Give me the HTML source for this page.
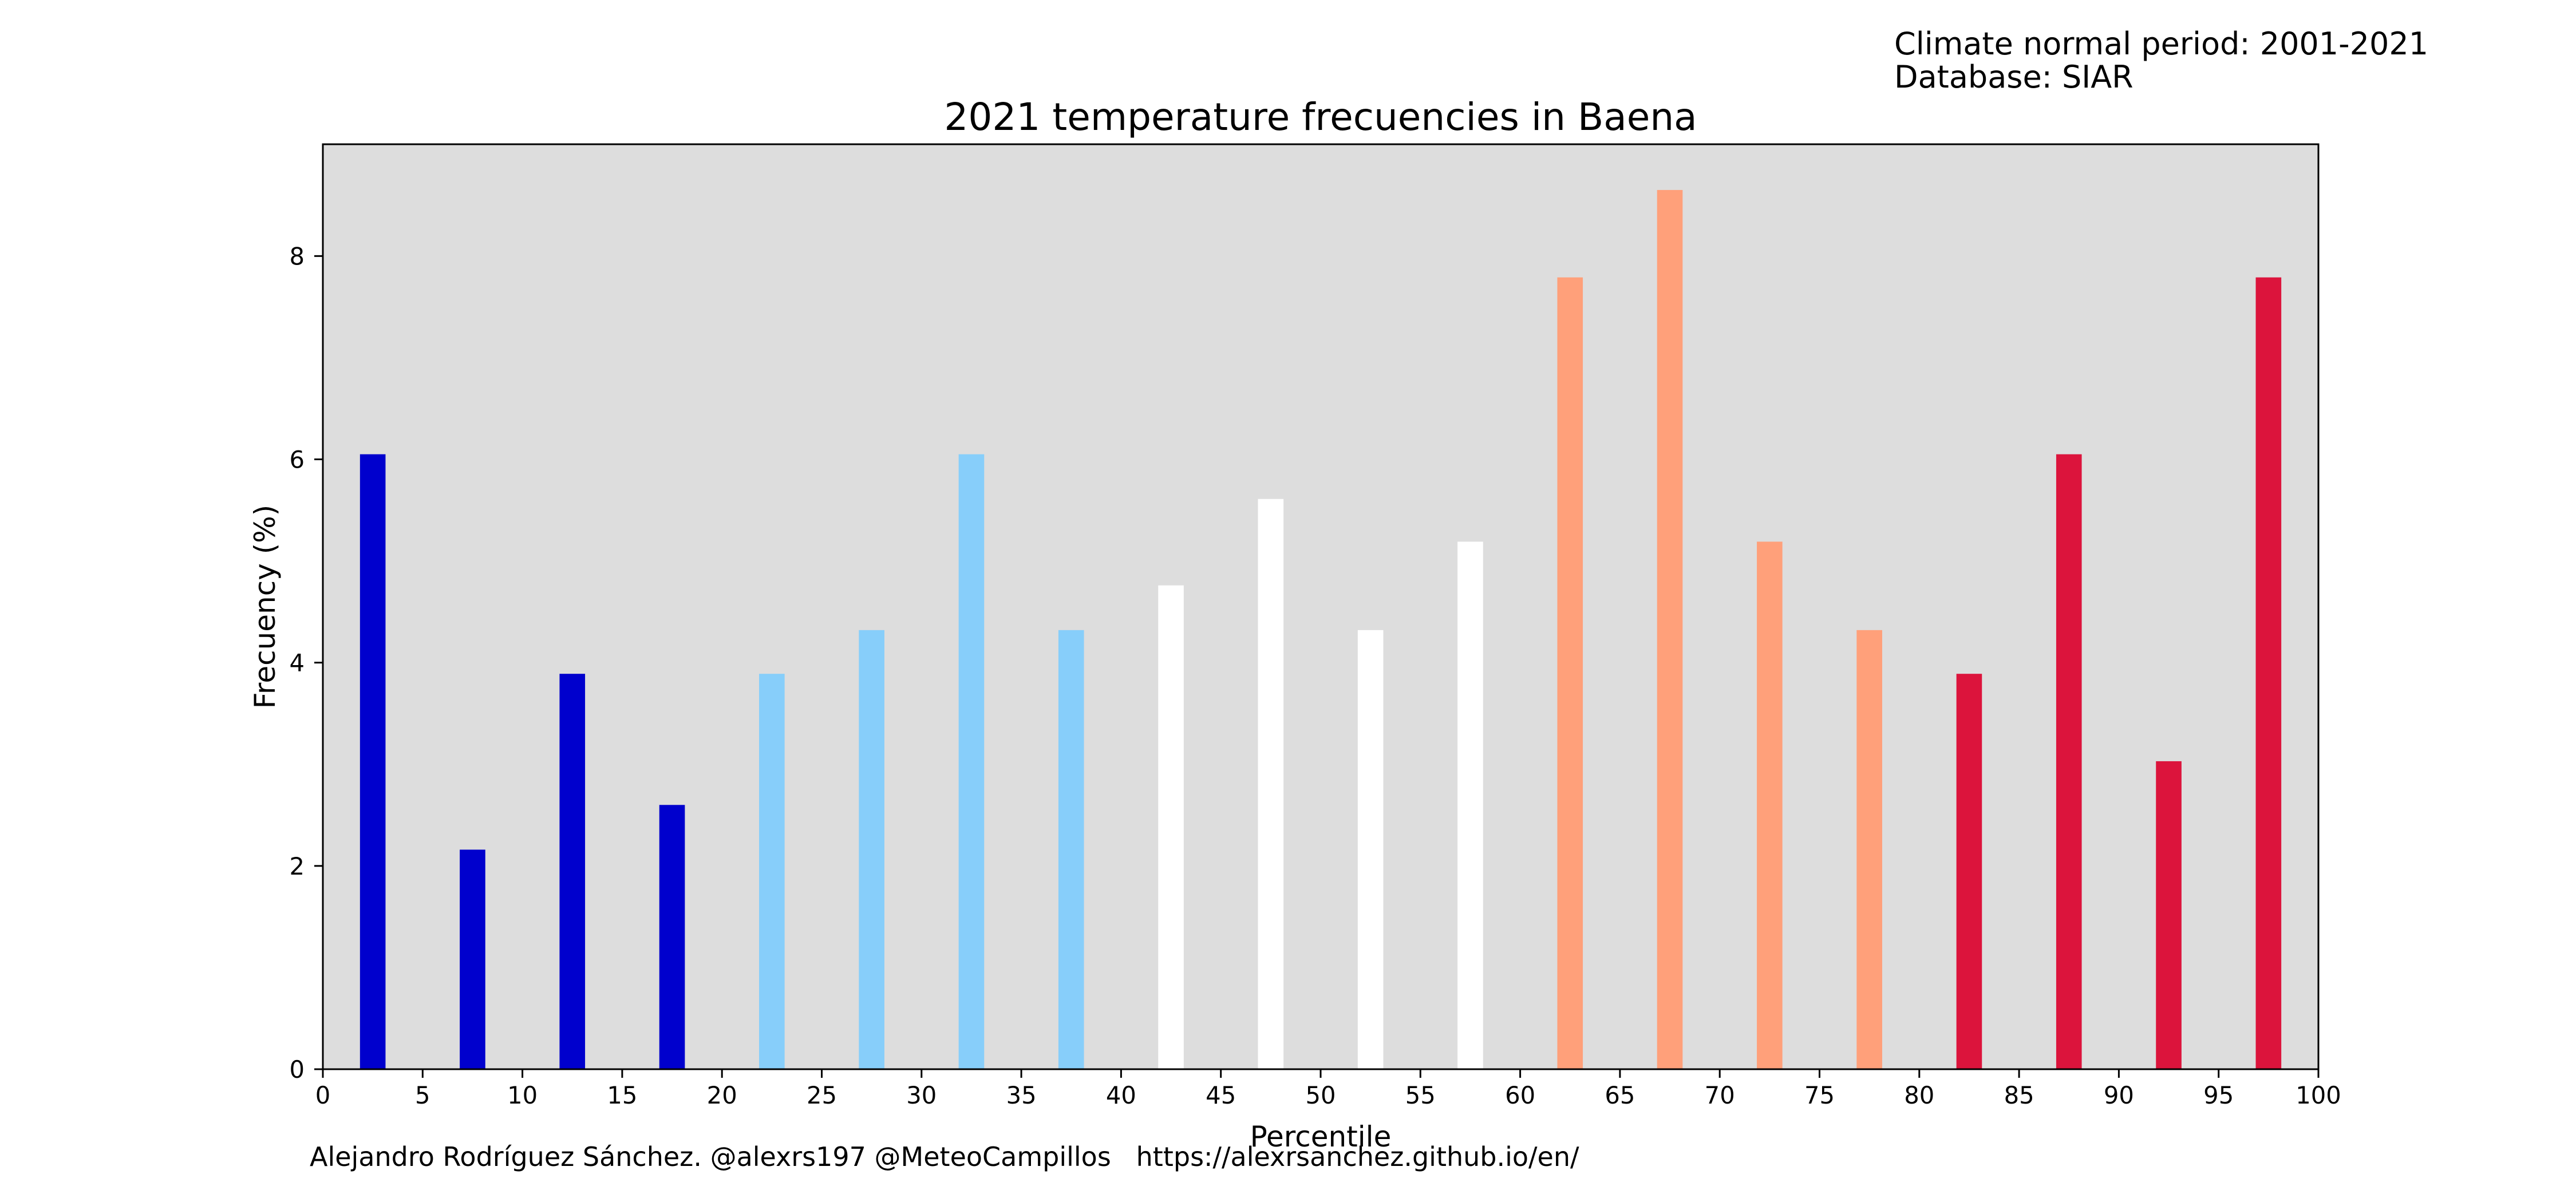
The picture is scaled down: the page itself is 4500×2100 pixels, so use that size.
<!DOCTYPE html>
<html><head><meta charset="utf-8"><style>
html,body{margin:0;padding:0;background:#fff;}
svg{display:block;font-family:"DejaVu Sans","Liberation Sans",sans-serif;}
</style></head><body>
<svg id="chart" width="4500" height="2100" viewBox="0 0 4500 2100" xmlns="http://www.w3.org/2000/svg">
<rect x="0" y="0" width="4500" height="2100" fill="#fff"/>
<text x="3309" y="95" font-size="54">Climate normal period: 2001-2021</text>
<text x="3309" y="153" font-size="54">Database: SIAR</text>
<text x="2307" y="227" font-size="66" text-anchor="middle">2021 temperature frecuencies in Baena</text>
<rect x="564" y="252" width="3486" height="1616" fill="#dddddd"/>
<g id="bars"></g>
<g id="xticks"></g>
<g id="yticks"></g>
<rect x="564" y="252" width="3486" height="1616" fill="none" stroke="#000" stroke-width="3"/>
<text x="2307" y="2003" font-size="50" text-anchor="middle">Percentile</text>
<text transform="translate(480,1060) rotate(-90)" font-size="50" text-anchor="middle">Frecuency (%)</text>
<text x="541" y="2037" font-size="46" style="white-space:pre" xml:space="preserve">Alejandro Rodríguez Sánchez. @alexrs197 @MeteoCampillos   https://alexrsanchez.github.io/en/</text>
</svg>
<script>
const percentiles = [2.5,7.5,12.5,17.5,22.5,27.5,32.5,37.5,42.5,47.5,52.5,57.5,62.5,67.5,72.5,77.5,82.5,87.5,92.5,97.5];
const frequencies = [6.05,2.16,3.89,2.6,3.89,4.32,6.05,4.32,4.76,5.61,4.32,5.19,7.79,8.65,5.19,4.32,3.89,6.05,3.03,7.79];
const barColors = ["#0000cd","#0000cd","#0000cd","#0000cd","#87cefa","#87cefa","#87cefa","#87cefa","#ffffff","#ffffff","#ffffff","#ffffff","#ffa07a","#ffa07a","#ffa07a","#ffa07a","#dc143c","#dc143c","#dc143c","#dc143c"];
const xTickValues = [0,5,10,15,20,25,30,35,40,45,50,55,60,65,70,75,80,85,90,95,100];
const yTickValues = [0,2,4,6,8];
const X0=564,X1=4050,Y0=1868,Y1=252,XMAX=100,YMAX=9.1,BARW=1.28;
const NS="http://www.w3.org/2000/svg";
function xs(v){return X0+(v/XMAX)*(X1-X0);}
function ys(v){return Y0-(v/YMAX)*(Y0-Y1);}
const gb=document.getElementById('bars');
percentiles.forEach((p,i)=>{
  const r=document.createElementNS(NS,'rect');
  r.setAttribute('x',xs(p-BARW/2));
  r.setAttribute('width',xs(BARW)-xs(0));
  r.setAttribute('y',ys(frequencies[i]));
  r.setAttribute('height',ys(0)-ys(frequencies[i]));
  r.setAttribute('fill',barColors[i]);
  
  
  gb.appendChild(r);
});
const gx=document.getElementById('xticks');
xTickValues.forEach(v=>{
  const l=document.createElementNS(NS,'line');
  l.setAttribute('x1',xs(v));l.setAttribute('x2',xs(v));
  l.setAttribute('y1',Y0);l.setAttribute('y2',Y0+15);
  l.setAttribute('stroke','#000');l.setAttribute('stroke-width','3');
  
  
  gx.appendChild(l);
  const t=document.createElementNS(NS,'text');
  t.setAttribute('x',xs(v));t.setAttribute('y',1928);
  t.setAttribute('font-size','41.7');t.setAttribute('text-anchor','middle');
  t.textContent=v;
  
  
  gx.appendChild(t);
});
const gy=document.getElementById('yticks');
yTickValues.forEach(v=>{
  const l=document.createElementNS(NS,'line');
  l.setAttribute('x1',X0-15);l.setAttribute('x2',X0);
  l.setAttribute('y1',ys(v));l.setAttribute('y2',ys(v));
  l.setAttribute('stroke','#000');l.setAttribute('stroke-width','3');
  
  
  gy.appendChild(l);
  const t=document.createElementNS(NS,'text');
  t.setAttribute('x',532);t.setAttribute('y',ys(v)+15);
  t.setAttribute('font-size','41.7');t.setAttribute('text-anchor','end');
  t.textContent=v;
  
  
  gy.appendChild(t);
});
</script>
</body></html>
